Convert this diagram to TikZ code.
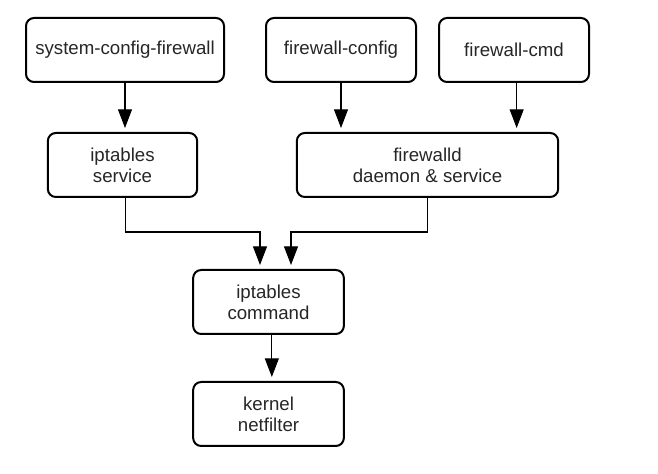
\documentclass[tikz,border=0pt]{standalone}
\usepackage{fontspec}
\setmainfont{Liberation Sans}
\usepackage{tikz}
\usetikzlibrary{calc,shapes,arrows.meta}

\tikzset{
    box/.style={draw, line width=1.5pt, rounded corners=6pt, align=center,
        minimum height=48pt, inner sep=0pt, text=black!85,
        font=\fontsize{14}{15.5}\selectfont},
    arr/.style={line width=0.8pt, -{Triangle[length=14pt,width=10.5pt]}, shorten >=3pt}
}

\begin{document}
\begin{tikzpicture}[x=0.75pt,y=-0.75pt]
        \useasboundingbox (0,0) rectangle (658,474);
        \node[box, minimum width=148.5pt] (scf)  at (125,50)   {system-config-firewall};
        \node[box, minimum width=112.5pt] (fcfg) at (341,50)   {firewall-config};
        \node[box, minimum width=112.5pt] (fcmd) at (514,50)   {firewall-cmd};
        \node[box, minimum width=112pt]   (ips)  at (122.5,165) {iptables\\service};
        \node[box, minimum width=196pt]   (fwd)  at (427.5,165) {firewalld\\daemon \& service};
        \node[box, minimum width=113pt]   (ipc)  at (268.5,302) {iptables\\command};
        \node[box, minimum width=113pt]   (kn)   at (268.5,414) {kernel\\netfilter};
        \coordinate (jl) at (260,232);
        \coordinate (jr) at (291,232);

        \draw[arr] (scf.south)  -- (scf.south |- ips.north);
        \draw[arr] (fcfg.south) -- (fcfg.south |- fwd.north);
        \draw[arr] ([xshift=2] fcmd.south) -- ([xshift=2] fcmd.south |- fwd.north);
        \draw[arr] ([xshift=2.5] ips.south) |- (jl) -- (jl |- ipc.north);
        \draw[arr] (fwd.south) |- (jr) -- (jr |- ipc.north);
        \draw[arr] ([xshift=2.5] ipc.south) -- ([xshift=2.5] kn.north);
    \end{tikzpicture}
\end{document}
